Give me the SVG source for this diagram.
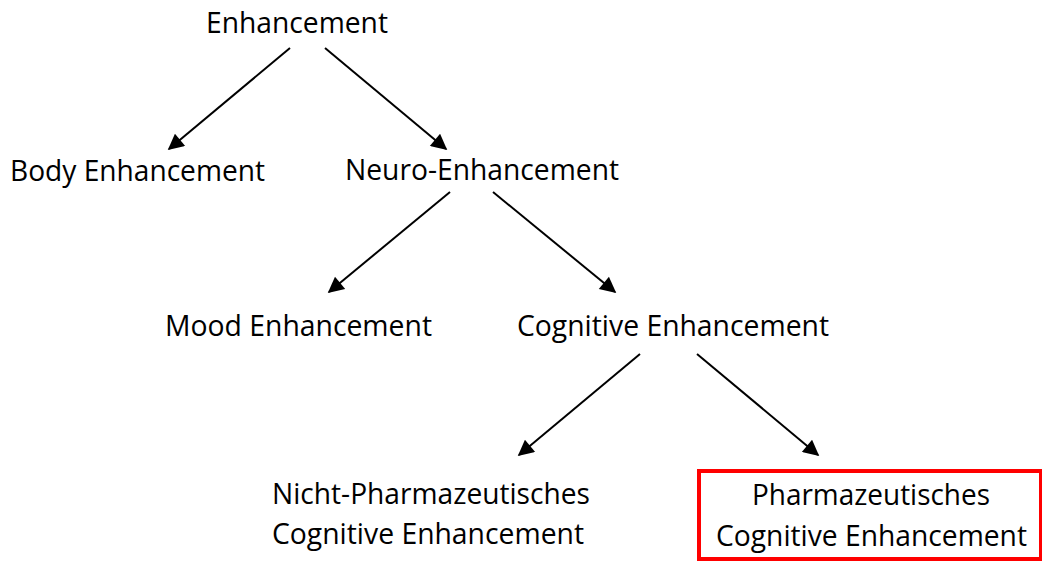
<svg xmlns="http://www.w3.org/2000/svg" width="1042" height="561" viewBox="0 0 1042 561">
<style>
text{font-family:"Open Sans","Liberation Sans",sans-serif;font-size:29.5px;fill:#000}
.c{stroke:#000;stroke-width:2;fill:none;marker-end:url(#ah)}
</style>
<defs>
<marker id="ah" viewBox="0 0 10 10" refX="9" refY="5" markerWidth="9.5" markerHeight="8" markerUnits="strokeWidth" orient="auto">
<path d="M0,0 L10,5 L0,10 z" fill="#000"/>
</marker>
</defs>
<rect width="1042" height="561" fill="#fff"/>
<g id="connectors">
<line class="c" x1="290" y1="48" x2="169" y2="149"/>
<line class="c" x1="325" y1="48" x2="446" y2="149"/>
<line class="c" x1="450" y1="192" x2="329" y2="292"/>
<line class="c" x1="493" y1="192" x2="615" y2="292"/>
<line class="c" x1="640" y1="354" x2="519" y2="455"/>
<line class="c" x1="697" y1="354" x2="818" y2="455"/>
</g>
<g id="n-enhancement"><text x="206" y="33" textLength="182" lengthAdjust="spacingAndGlyphs">Enhancement</text></g>
<g id="n-body"><text x="10" y="181" textLength="255" lengthAdjust="spacingAndGlyphs">Body Enhancement</text></g>
<g id="n-neuro"><text x="345" y="180" textLength="274" lengthAdjust="spacingAndGlyphs">Neuro-Enhancement</text></g>
<g id="n-mood"><text x="165" y="336" textLength="267" lengthAdjust="spacingAndGlyphs">Mood Enhancement</text></g>
<g id="n-cognitive"><text x="517" y="336" textLength="312" lengthAdjust="spacingAndGlyphs">Cognitive Enhancement</text></g>
<g id="n-nicht">
<text x="272" y="504" textLength="318" lengthAdjust="spacingAndGlyphs">Nicht-Pharmazeutisches</text>
<text x="272" y="544" textLength="312" lengthAdjust="spacingAndGlyphs">Cognitive Enhancement</text>
</g>
<g id="n-pharm">
<rect x="699" y="471" width="342" height="88" fill="none" stroke="#f00" stroke-width="4"/>
<text x="752" y="505" textLength="238" lengthAdjust="spacingAndGlyphs">Pharmazeutisches</text>
<text x="716" y="546" textLength="311" lengthAdjust="spacingAndGlyphs">Cognitive Enhancement</text>
</g>
</svg>
